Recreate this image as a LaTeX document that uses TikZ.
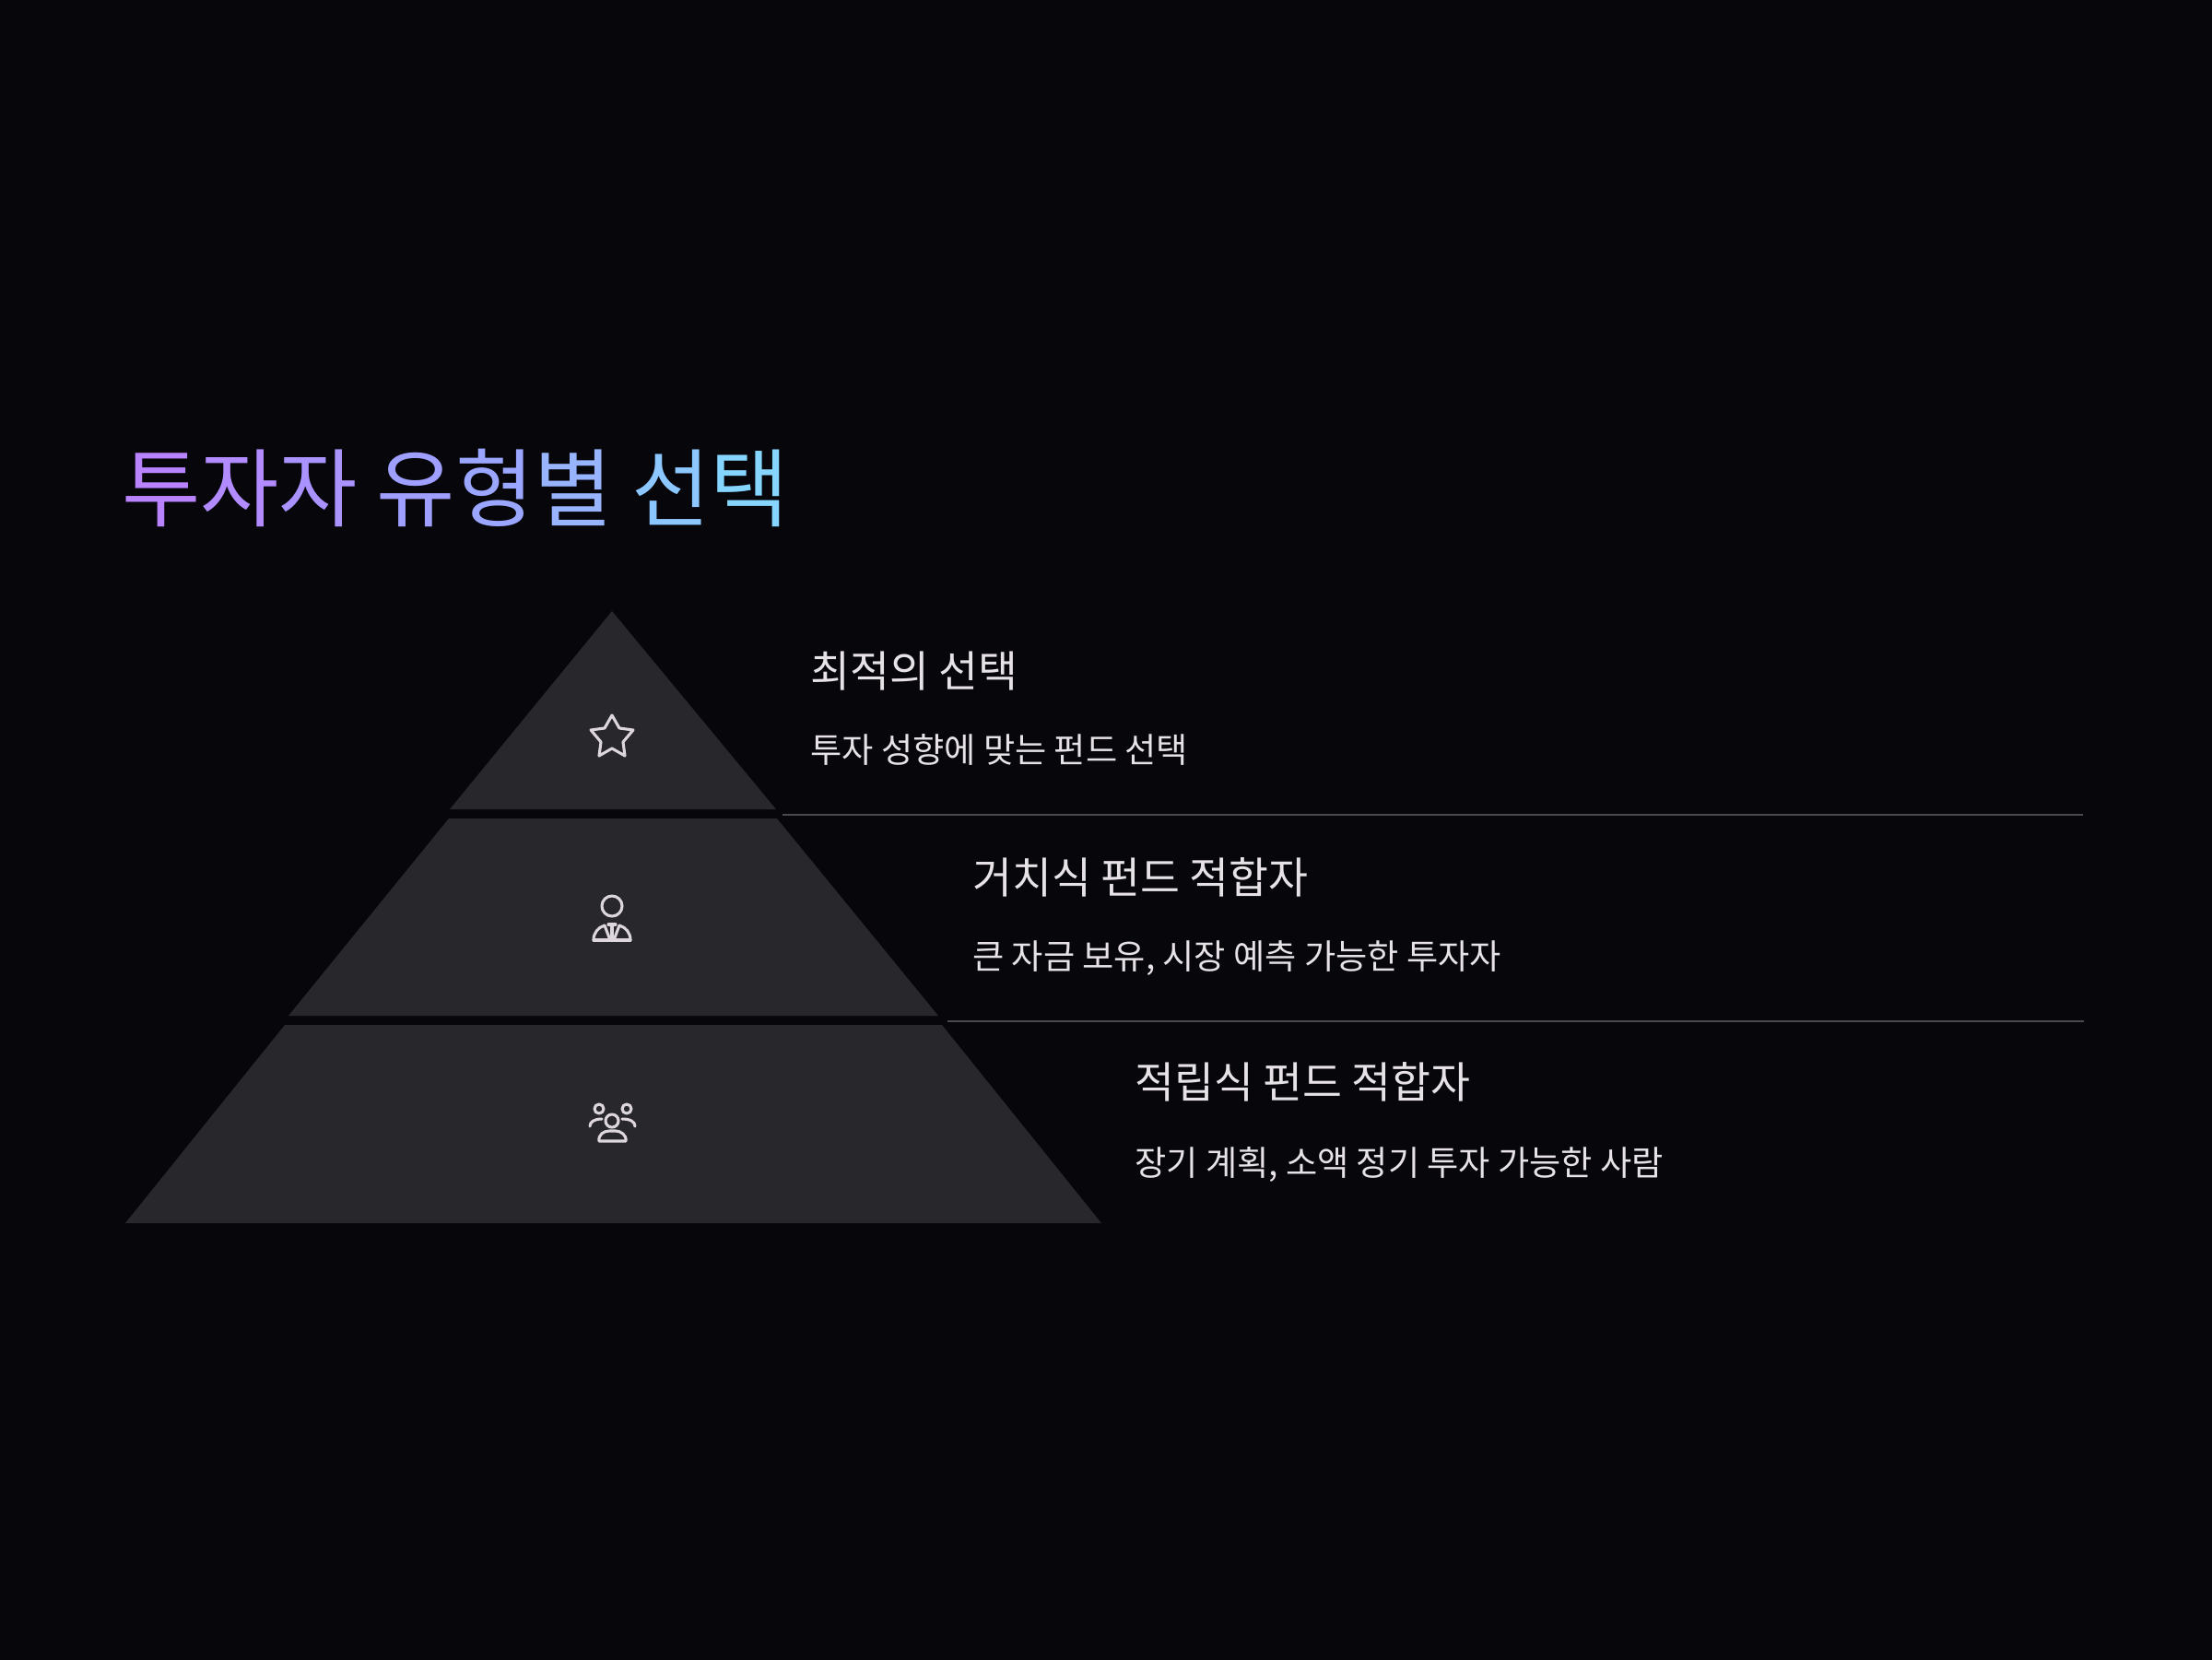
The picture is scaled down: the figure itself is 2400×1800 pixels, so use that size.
\documentclass[tikz,border=0pt]{standalone}
\usepackage{fontspec}
\setmainfont{Noto Sans CJK KR}
\definecolor{bgc}{HTML}{06060B}
\definecolor{band}{HTML}{28282C}
\definecolor{rulec}{HTML}{4A4A50}
\definecolor{txt}{HTML}{E6E2E6}
\definecolor{ico}{HTML}{DDD7DD}
\definecolor{ta}{HTML}{B983FF}
\definecolor{tb}{HTML}{B18BFF}
\definecolor{tc}{HTML}{AA92FF}
\definecolor{td}{HTML}{9F9FFF}
\definecolor{te}{HTML}{9AA6FF}
\definecolor{tf}{HTML}{98B4FF}
\definecolor{tg}{HTML}{8CC8FF}
\definecolor{th}{HTML}{85D5FF}
\tikzset{
  headtext/.style={anchor=base west,inner sep=0pt,text=txt,font=\fontsize{35}{40}\selectfont},
  bodytext/.style={anchor=base west,inner sep=0pt,text=txt,font=\fontsize{27.9}{32}\selectfont},
  titletext/.style={anchor=base west,inner sep=0pt,font=\fontsize{69.5}{80}\selectfont},
  tier/.style={fill=band,draw=none},
  sep/.style={draw=rulec,line width=1.1pt},
  icon/.style={draw=ico,line width=2.3pt,line cap=round,line join=round}
}
\begin{document}
\begin{tikzpicture}[x=0.75pt,y=-0.75pt]
\useasboundingbox (0,0) rectangle (2400,1800);
\fill[bgc] (-6,-6) rectangle (2406,1806);
\node[titletext] (title) at (132,564) {\textcolor{ta}{투}\textcolor{tb}{자}\textcolor{tc}{자} \textcolor{td}{유}\textcolor{te}{형}\textcolor{tf}{별} \textcolor{tg}{선}\textcolor{th}{택}};
% pyramid tiers
\fill[tier] (664,663) -- (842,878) -- (488,878) -- cycle;
\fill[tier] (487,888) -- (843,888) -- (1018,1102) -- (313,1102) -- cycle;
\fill[tier] (309,1112) -- (1022,1112) -- (1195,1327) -- (136,1327) -- cycle;
% separators
\coordinate (s1a) at (849,884); \coordinate (s1b) at (2260,884);
\coordinate (s2a) at (1028,1108); \coordinate (s2b) at (2261,1108);
\draw[sep] (s1a) -- (s1b);
\draw[sep] (s2a) -- (s2b);
% labels
\node[headtext] (h1) at (879,745) {최적의 선택};
\node[bodytext] (b1) at (879,827) {투자 성향에 맞는 펀드 선택};
\node[headtext] (h2) at (1055,969) {거치식 펀드 적합자};
\node[bodytext] (b2) at (1055,1051) {큰 자금 보유, 시장 예측 가능한 투자자};
\node[headtext] (h3) at (1231,1191) {적립식 펀드 적합자};
\node[bodytext] (b3) at (1231,1275) {장기 계획, 소액 정기 투자 가능한 사람};
% star icon
\draw[icon] (664,776) -- (672,790) -- (687,792) -- (676,805) -- (678,820) -- (664,812) -- (650,820) -- (652,805) -- (641,792) -- (656,790) -- cycle;
% person icon
\draw[icon] (664,983) circle (11);
\draw[icon] (644,1020) -- (684,1020);
\draw[icon] (644,1020) .. controls (644,1012) and (649,1006) .. (656,1004);
\draw[icon] (684,1020) .. controls (684,1012) and (679,1006) .. (672,1004);
\draw[icon] (656,1004) -- (662,1020);
\draw[icon] (672,1004) -- (666,1020);
\draw[icon] (660,1003) -- (668,1003);
\draw[icon] (664,1005) -- (664,1020);
% people icon
\draw[icon] (650,1203) circle (5);
\draw[icon] (680,1203) circle (5);
\draw[icon] (664,1216) circle (7);
\draw[icon] (650,1238) -- (679,1238) .. controls (680,1231) and (673,1227) .. (668,1227) -- (661,1227) .. controls (655,1227) and (649,1231) .. (650,1238) -- cycle;
\draw[icon] (640,1222) .. controls (640,1217) and (645,1214) .. (653,1214);
\draw[icon] (689,1222) .. controls (689,1217) and (684,1214) .. (675,1214);
\end{tikzpicture}
\end{document}
